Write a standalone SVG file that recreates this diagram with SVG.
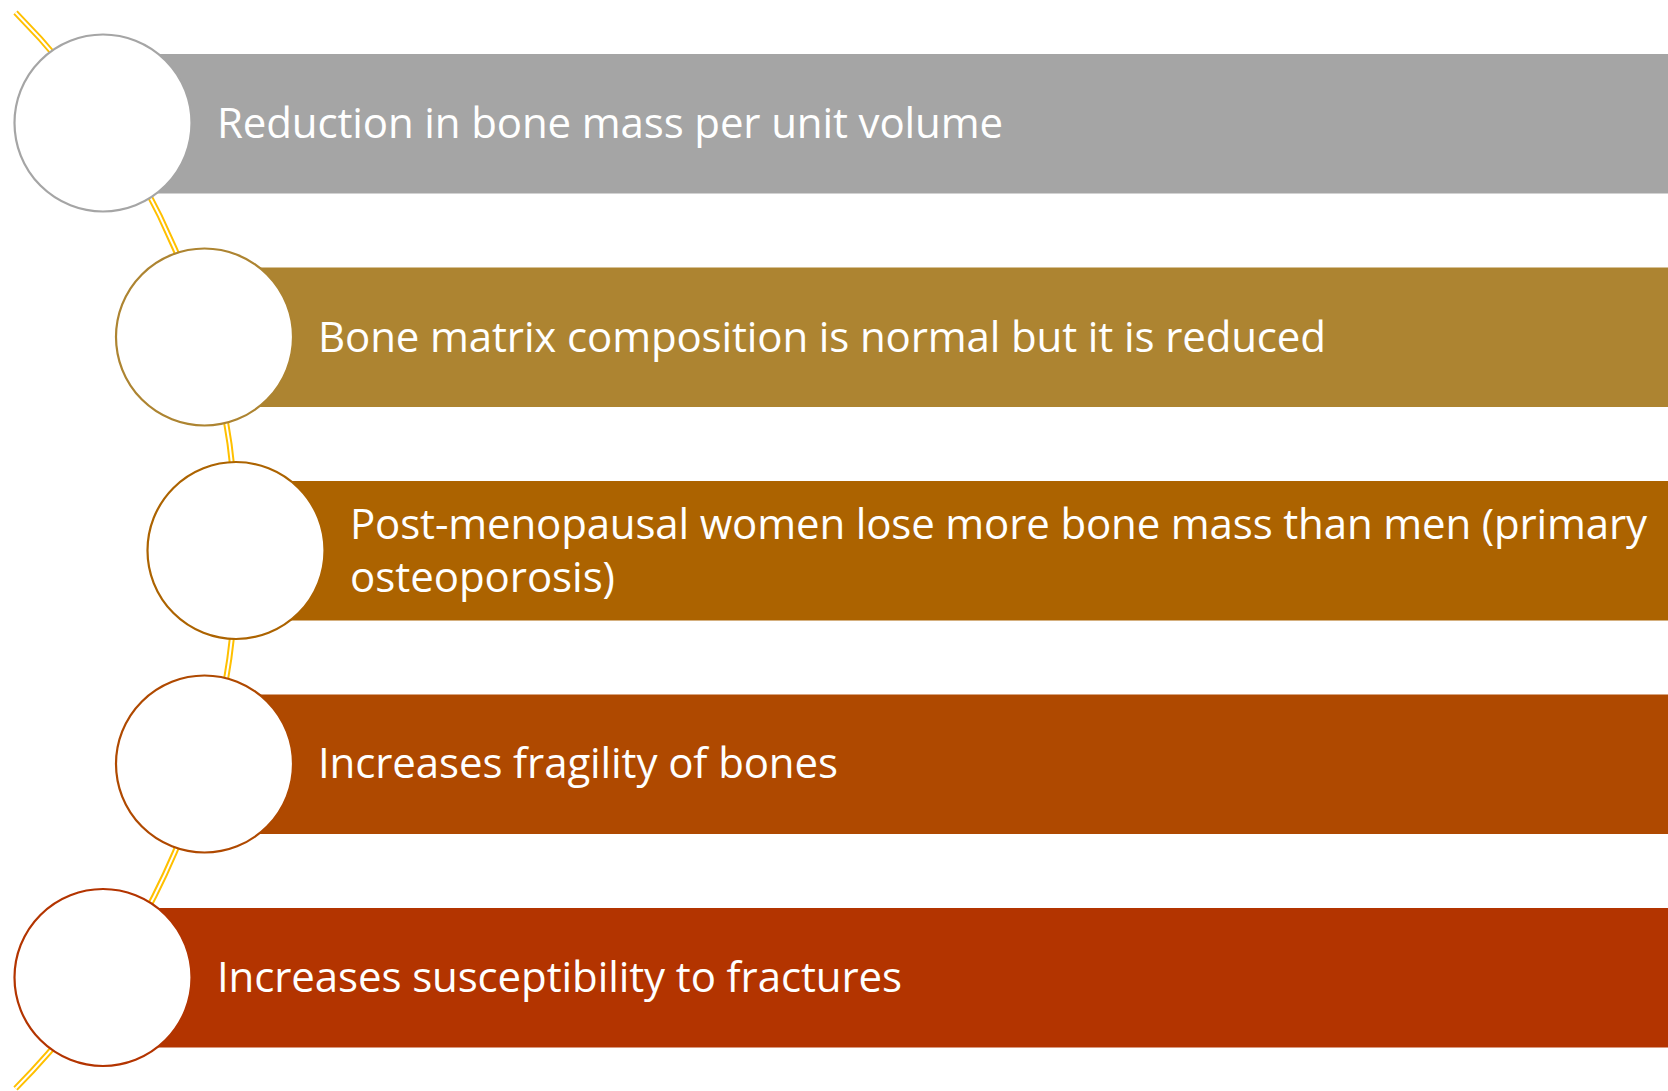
<svg xmlns="http://www.w3.org/2000/svg" width="1668" height="1091" viewBox="0 0 1668 1091">
  <style>
    .lbl { font-family: "Open Sans", "Noto Sans", "Liberation Sans", sans-serif; font-size: 42px; fill: #FFFFFF; }
    .dot { fill: #FFFFFF; stroke-width: 2.2; }
    .rail-o { fill: none; stroke: #FFC000; stroke-width: 6; }
    .rail-i { fill: none; stroke: #FFFFFF; stroke-width: 2; }
  </style>
  <rect width="1668" height="1091" fill="#FFFFFF"/>
  <g id="connectors">
    <path class="rail-o" d="M 15.5 12.5 A 764.4 764.4 0 0 1 15.5 1088.5"/>
    <path class="rail-i" d="M 15.5 12.5 A 764.4 764.4 0 0 1 15.5 1088.5"/>
  </g>
  <g id="node1">
    <rect x="103" y="54" width="1565" height="139.5" fill="#A5A5A5"/>
    <circle class="dot" cx="103" cy="123" r="88.5" stroke="#A5A5A5"/>
    <text class="lbl" x="217" y="137.5" textLength="786" lengthAdjust="spacing">Reduction in bone mass per unit volume</text>
  </g>
  <g id="node2">
    <rect x="204.5" y="267.5" width="1463.5" height="139.5" fill="#AD8431"/>
    <circle class="dot" cx="204.5" cy="337" r="88.5" stroke="#AD8431"/>
    <text class="lbl" x="318" y="351.5" textLength="1008" lengthAdjust="spacing">Bone matrix composition is normal but it is reduced</text>
  </g>
  <g id="node3">
    <rect x="236" y="481" width="1432" height="139.5" fill="#AC6300"/>
    <circle class="dot" cx="236" cy="550.5" r="88.5" stroke="#AC6300"/>
    <text class="lbl" x="350" y="538.5" textLength="1297" lengthAdjust="spacing">Post-menopausal women lose more bone mass than men (primary</text>
    <text class="lbl" x="350" y="591.5" textLength="265" lengthAdjust="spacing">osteoporosis)</text>
  </g>
  <g id="node4">
    <rect x="204.5" y="694.5" width="1463.5" height="139.5" fill="#AF4900"/>
    <circle class="dot" cx="204.5" cy="764" r="88.5" stroke="#AF4900"/>
    <text class="lbl" x="318" y="778" textLength="520" lengthAdjust="spacing">Increases fragility of bones</text>
  </g>
  <g id="node5">
    <rect x="103" y="908" width="1565" height="139.5" fill="#B33400"/>
    <circle class="dot" cx="103" cy="977.5" r="88.5" stroke="#B33400"/>
    <text class="lbl" x="217" y="991.5" textLength="685" lengthAdjust="spacing">Increases susceptibility to fractures</text>
  </g>
</svg>
